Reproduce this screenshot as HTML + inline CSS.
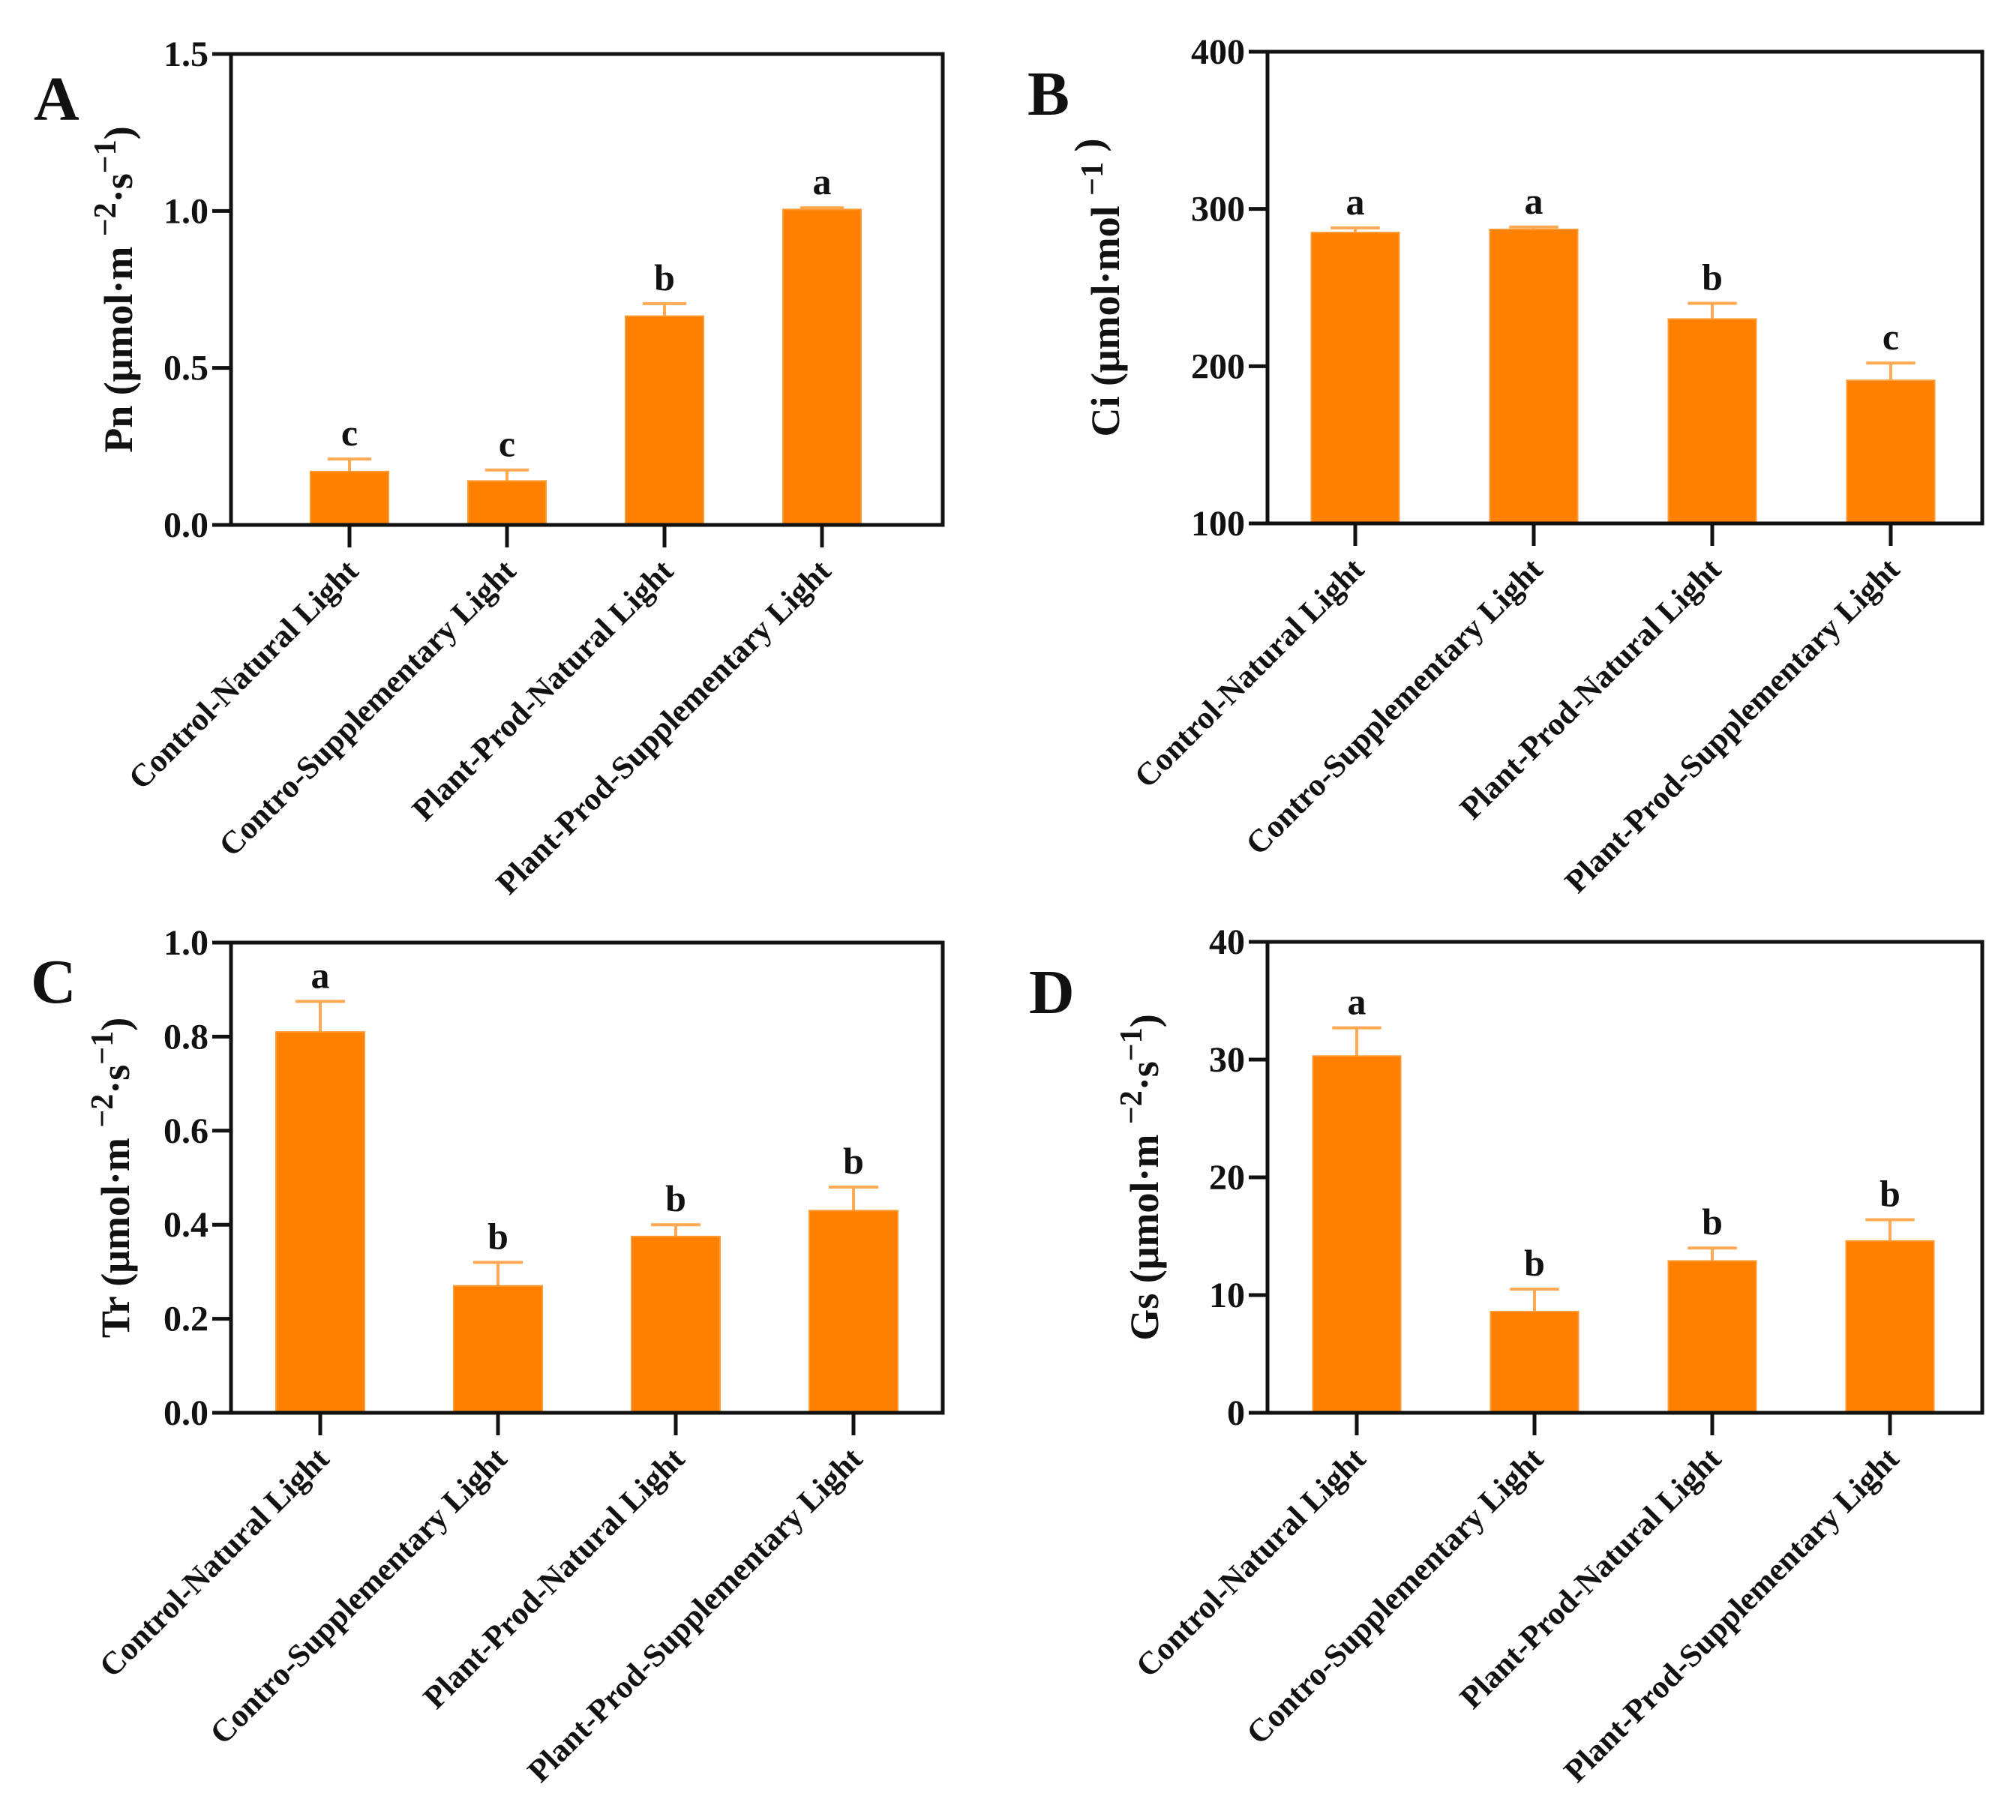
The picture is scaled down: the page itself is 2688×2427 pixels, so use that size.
<!DOCTYPE html>
<html><head><meta charset="utf-8"><style>
html,body{margin:0;padding:0;background:#fff}
svg{display:block}
text{font-family:"Liberation Serif",serif;font-weight:bold;fill:#111}
</style></head><body>
<svg id="fig" width="2688" height="2427" viewBox="0 0 2688 2427" xmlns="http://www.w3.org/2000/svg"></svg>
<script>
const categories = ["Control-Natural Light","Contro-Supplementary Light","Plant-Prod-Natural Light","Plant-Prod-Supplementary Light"];
const pnValues = [0.17, 0.14, 0.665, 1.005];
const pnErrors = [0.04, 0.035, 0.04, 0.005];
const pnLetters = ["c","c","b","a"];
const pnTicks = ["0.0","0.5","1.0","1.5"];
const ciValues = [285, 287, 230, 191];
const ciErrors = [3, 1.5, 10, 11];
const ciLetters = ["a","a","b","c"];
const ciTicks = ["100","200","300","400"];
const trValues = [0.81, 0.27, 0.375, 0.43];
const trErrors = [0.065, 0.05, 0.025, 0.05];
const trLetters = ["a","b","b","b"];
const trTicks = ["0.0","0.2","0.4","0.6","0.8","1.0"];
const gsValues = [30.3, 8.6, 12.9, 14.6];
const gsErrors = [2.4, 1.9, 1.1, 1.8];
const gsLetters = ["a","b","b","b"];
const gsTicks = ["0","10","20","30","40"];

const NS="http://www.w3.org/2000/svg";
const svg=document.getElementById('fig');
function mk(tag,attrs,parent){const e=document.createElementNS(NS,tag);for(const k in attrs)e.setAttribute(k,attrs[k]);(parent||svg).appendChild(e);return e;}

const panels=[
 {id:"a",letter:"A",lx:45,ly:160,x0:308,x1:1257,y0:72,y1:700,first:158,step:210,bw:104,vals:pnValues,errs:pnErrors,lets:pnLetters,ticks:pnTicks,tx:158,title:["Pn (μmol·m ","−2","·s","−1",")"]},
 {id:"b",letter:"B",lx:1370,ly:153,x0:1690,x1:2643,y0:69,y1:698,first:117,step:238,bw:117,vals:ciValues,errs:ciErrors,lets:ciLetters,ticks:ciTicks,tx:1474,title:["Ci (μmol·mol ","−1","",""," )"]},
 {id:"c",letter:"C",lx:41,ly:1337,x0:308,x1:1257,y0:1257,y1:1884,first:119,step:237,bw:118,vals:trValues,errs:trErrors,lets:trLetters,ticks:trTicks,tx:154,title:["Tr (μmol·m ","−2","·s","−1",")"]},
 {id:"d",letter:"D",lx:1372,ly:1351,x0:1690,x1:2643,y0:1256,y1:1884,first:119,step:237,bw:117,vals:gsValues,errs:gsErrors,lets:gsLetters,ticks:gsTicks,tx:1526,title:["Gs (μmol·m ","−2","·s","−1",")"]}
];

panels.forEach(p=>{
  const g=mk('g',{});
  
  
  const tmin=parseFloat(p.ticks[0]), tmax=parseFloat(p.ticks[p.ticks.length-1]);
  const y=v=>p.y1-(v-tmin)/(tmax-tmin)*(p.y1-p.y0);
  const x=i=>p.x0+p.first+i*p.step;
  const L=mk('text',{x:p.lx,y:p.ly,'font-size':84},g); L.textContent=p.letter;
  
  
  p.vals.forEach((v,i)=>{
    const e=p.errs[i], cx=x(i);
    const el=mk('line',{x1:cx,x2:cx,y1:y(v),y2:y(v+e),stroke:'#ffa955','stroke-width':4},g);
    
    
    const cap=mk('line',{x1:cx-p.bw*0.28,x2:cx+p.bw*0.28,y1:y(v+e),y2:y(v+e),stroke:'#ffa955','stroke-width':4},g);
    
    
    const r=mk('rect',{x:cx-p.bw/2,y:y(v),width:p.bw,height:p.y1-y(v),fill:'#ff8000',stroke:'#ff9a33','stroke-width':2},g);
    
    
    const t=mk('text',{x:cx,y:y(v+e)-18,'font-size':50,'text-anchor':'middle'},g); t.textContent=p.lets[i];
    
    
    const tk=mk('line',{x1:cx,x2:cx,y1:p.y1,y2:p.y1+30,stroke:'#111','stroke-width':5},g);
    
    
    const cl=mk('text',{x:0,y:0,'font-size':43,'text-anchor':'end',transform:`translate(${cx+14},${p.y1+64}) rotate(-45)`},g);
    cl.textContent=categories[i];
    
    
  });
  p.ticks.forEach(s=>{
    const v=parseFloat(s), yy=y(v);
    const tk=mk('line',{x1:p.x0-25,x2:p.x0,y1:yy,y2:yy,stroke:'#111','stroke-width':5},g);
    
    
    const tl=mk('text',{x:p.x0-30,y:yy+16,'font-size':48,'text-anchor':'end'},g); tl.textContent=s;
    
    
  });
  const box=mk('rect',{x:p.x0,y:p.y0,width:p.x1-p.x0,height:p.y1-p.y0,fill:'none',stroke:'#111','stroke-width':5},g);
  
  
  const cy=(p.y0+p.y1)/2;
  const tt=mk('text',{x:0,y:0,'font-size':54,'text-anchor':'middle',transform:`translate(${p.tx+18},${cy}) rotate(-90)`},g);
  
  
  const parts=p.title;
  const s0=mk('tspan',{},tt); s0.textContent=parts[0];
  const s1=mk('tspan',{dy:-22,'font-size':42},tt); s1.textContent=parts[1];
  const s2=mk('tspan',{dy:22},tt); s2.textContent=parts[2];
  if(parts[3]){const s3=mk('tspan',{dy:-22,'font-size':42},tt); s3.textContent=parts[3];
    const s4=mk('tspan',{dy:22},tt); s4.textContent=parts[4];}
  else{const s4=mk('tspan',{},tt); s4.textContent=parts[4];}
});
</script>
</body></html>
